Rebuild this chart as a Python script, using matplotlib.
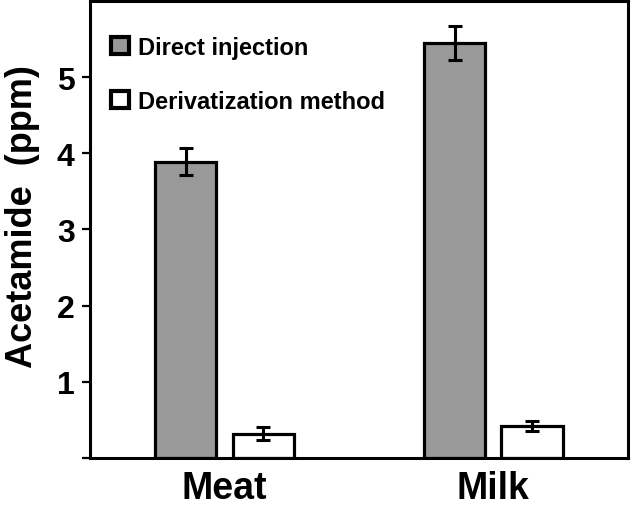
import matplotlib
matplotlib.use('Agg')
import matplotlib.pyplot as plt
from matplotlib.patches import Patch
import numpy as np

# data
categories = ['Meat', 'Milk']
series_names = ['Direct injection', 'Derivatization method']
direct_vals = [3.89, 5.45]
direct_err = [0.18, 0.22]
deriv_vals = [0.32, 0.42]
deriv_err = [0.09, 0.07]
yticks = [0, 1, 2, 3, 4, 5]
ytick_labels = ['', '1', '2', '3', '4', '5']

# font
plt.rcParams['font.family'] = ['Liberation Sans', 'DejaVu Sans']
plt.rcParams['font.weight'] = 'bold'

fig = plt.figure(figsize=(6.32, 5.06), dpi=100)
ax = fig.add_axes([0.1424, 0.093, 0.851, 0.903])

x = np.arange(len(categories))
width = 0.228
offset = 0.144
gray = '#999999'

err_kw = dict(elinewidth=2.2, capthick=2.2, capsize=5, ecolor='black')
ax.bar(x - offset, direct_vals, width, yerr=direct_err, color=gray,
       edgecolor='black', linewidth=2.3, error_kw=err_kw, zorder=2)
ax.bar(x + offset, deriv_vals, width, yerr=deriv_err, color='white',
       edgecolor='black', linewidth=2.3, error_kw=err_kw, zorder=2)

# limits / axis
ax.set_xlim(-0.5, 1.5)
ax.set_ylim(0, 6)
ax.set_xticks(x)
ax.set_xticklabels(categories, fontsize=27, fontweight='bold')
ax.set_yticks(yticks)
ax.set_yticklabels(ytick_labels, fontsize=23, fontweight='bold')
ax.tick_params(axis='x', length=0, pad=9)
ax.tick_params(axis='y', length=6, width=1.6, pad=5, direction='out')
for sp in ax.spines.values():
    sp.set_linewidth(2.2)

ax.set_ylabel('Acetamide  (ppm)', fontsize=26, fontweight='bold')
ax.yaxis.set_label_coords(-0.093, 0.53)

# legend
handles = [Patch(facecolor=gray, edgecolor='black', linewidth=3),
           Patch(facecolor='white', edgecolor='black', linewidth=3)]
leg = ax.legend(handles, series_names, loc='upper left', frameon=False,
                prop={'size': 17, 'weight': 'bold'},
                handlelength=0.75, handleheight=0.75, handletextpad=0.4,
                labelspacing=1.3, bbox_to_anchor=(0.0, 0.97))

fig.savefig('out.png', dpi=100)
